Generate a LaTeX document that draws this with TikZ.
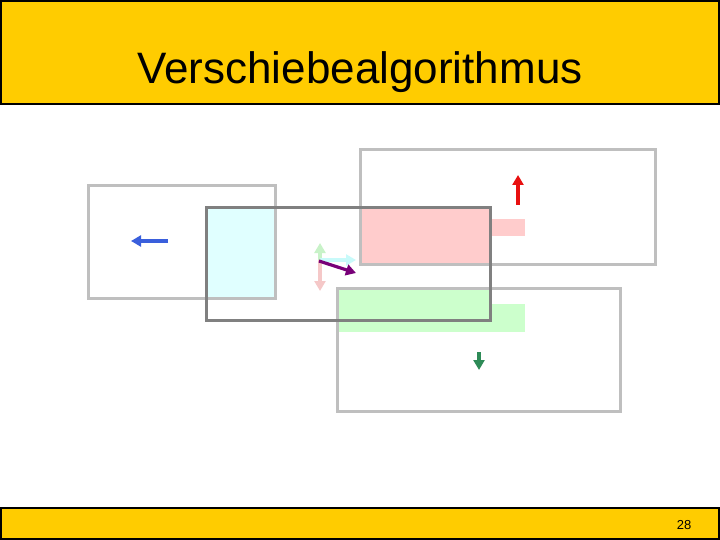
\documentclass[tikz,border=0pt]{standalone}
\usepackage{fontspec}
\setmainfont{Liberation Sans}
\usetikzlibrary{arrows.meta}
\definecolor{barYellow}{HTML}{FFCC00}
\definecolor{boxGray}{HTML}{BFBFBF}
\definecolor{curGray}{HTML}{808080}
\definecolor{fillCyan}{HTML}{E0FFFF}
\definecolor{fillPink}{HTML}{FFCCCC}
\definecolor{fillGreen}{HTML}{CCFFCC}
\definecolor{arrBlue}{HTML}{3A5FDC}
\definecolor{arrRed}{HTML}{E81010}
\definecolor{arrGreen}{HTML}{2E8B57}
\definecolor{arrPurple}{HTML}{780078}
\definecolor{paleGreen}{HTML}{C8F2C8}
\definecolor{palePink}{HTML}{F5C8C8}
\definecolor{paleCyan}{HTML}{C8FAFA}
\begin{document}
\begin{tikzpicture}[x=1pt,y=-1pt,
  bar/.style={fill=barYellow, draw=black, line width=2.5pt},
  box/.style={draw=boxGray, line width=3pt},
  cur/.style={draw=curGray, line width=3pt},
  move/.style={line width=3.2pt, -{Triangle[length=10pt,width=11pt]}}]
\useasboundingbox (0,0) rectangle (720,540);
\draw[bar] (1,1) rectangle (719,104);
\draw[bar] (1,508) rectangle (719,539);
\node[anchor=base, font=\fontsize{44}{50}\selectfont] (title) at (360,84) {Verschiebealgorithmus};
\node[anchor=base, font=\fontsize{13}{15}\selectfont] (page) at (684,529) {28};
\fill[fillCyan] (207,208) rectangle (275,298);
\fill[fillPink] (361,208) rectangle (490,264);
\fill[fillPink] (490,219) rectangle (525,236);
\fill[fillGreen] (338,288) rectangle (490,332);
\fill[fillGreen] (490,304) rectangle (525,332);
\draw[box] (88,186) rectangle (275,298);
\draw[box] (360,150) rectangle (655,264);
\draw[box] (337,288) rectangle (620,411);
\draw[cur] (206,208) rectangle (490,320);
\coordinate (leftfrom) at (168,241);
\coordinate (leftto) at (131,241);
\coordinate (upfrom) at (518,205);
\coordinate (upto) at (518,175);
\coordinate (downfrom) at (479,352);
\coordinate (downto) at (479,370);
\coordinate (mid) at (320,260);
\coordinate (midup) at (320,243);
\coordinate (middown) at (320,291);
\coordinate (midright) at (356,260);
\coordinate (midfrom) at (319,261);
\coordinate (midto) at (356,273);
\draw[move, arrBlue] (leftfrom) -- (leftto);
\draw[move, arrRed] (upfrom) -- (upto);
\draw[move, arrGreen] (downfrom) -- (downto);
\draw[move, paleGreen] (mid) -- (midup);
\draw[move, palePink] (mid) -- (middown);
\draw[move, paleCyan] (mid) -- (midright);
\draw[move, arrPurple] (midfrom) -- (midto);
\end{tikzpicture}
\end{document}
